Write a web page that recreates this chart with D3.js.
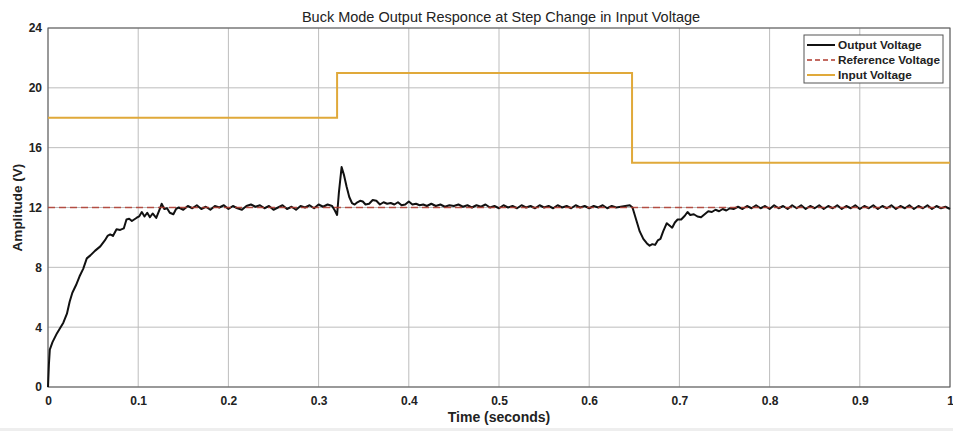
<!DOCTYPE html>
<html><head><meta charset="utf-8">
<script src="https://cdnjs.cloudflare.com/ajax/libs/d3/7.8.5/d3.min.js"></script>
<style>body{margin:0;background:#fff;}svg{display:block;font-family:"Liberation Sans",Arial,sans-serif;}</style>
</head><body><svg id="c" width="953" height="431"></svg>
<script>
const title = "Buck Mode Output Responce at Step Change in Input Voltage";
const xTicks = [0,0.1,0.2,0.3,0.4,0.5,0.6,0.7,0.8,0.9,1];
const xTickLabels = ["0","0.1","0.2","0.3","0.4","0.5","0.6","0.7","0.8","0.9","1"];
const yTicks = [0,4,8,12,16,20,24];
const seriesNames = ["Output Voltage","Reference Voltage","Input Voltage"];
const referenceVoltage = [[0,12],[1,12]];
const inputVoltage = [[0,18],[0.3205,18],[0.3205,21],[0.6475,21],[0.6475,15],[1,15]];
const outputVoltage = [
[0,0],[0.001,1.5],[0.002,2.5],[0.005,3.0],[0.010,3.6],[0.013,3.9],[0.017,4.3],[0.021,4.9],[0.024,5.7],[0.027,6.3],
[0.031,6.8],[0.035,7.4],[0.039,7.9],[0.043,8.6],[0.047,8.8],[0.052,9.1],[0.058,9.4],[0.063,9.8],[0.066,10.1],[0.069,10.2],
[0.072,10.1],[0.076,10.55],[0.080,10.5],[0.084,10.6],[0.087,11.2],[0.090,11.25],[0.093,11.1],[0.098,11.3],[0.101,11.4],[0.104,11.7],
[0.107,11.4],[0.110,11.65],[0.113,11.35],[0.116,11.6],[0.120,11.3],[0.124,11.9],[0.126,12.25],[0.129,11.9],[0.132,11.95],[0.135,11.65],
[0.139,11.55],[0.142,11.9],[0.145,12.0],[0.15,11.85],[0.155,12.1],[0.16,11.95],[0.165,12.15],[0.17,11.9],[0.175,12.05],[0.18,11.85],
[0.185,12.1],[0.19,12.0],[0.195,12.15],[0.2,11.9],[0.205,12.1],[0.21,11.95],[0.215,11.85],[0.22,12.1],[0.225,12.2],[0.23,12.05],
[0.235,12.15],[0.24,11.95],[0.245,12.1],[0.25,11.85],[0.255,12.0],[0.26,12.15],[0.265,11.9],[0.27,12.05],[0.275,11.85],[0.28,12.1],
[0.285,12.0],[0.29,12.15],[0.295,11.95],[0.3,12.2],[0.305,12.05],[0.31,12.2],[0.315,12.1],[0.318,11.8],[0.3205,11.5],[0.3225,13.0],
[0.3255,14.7],[0.328,14.2],[0.331,13.4],[0.334,12.7],[0.337,12.3],[0.340,12.2],[0.343,12.35],[0.346,12.45],[0.349,12.4],[0.352,12.2],
[0.356,12.25],[0.36,12.5],[0.364,12.45],[0.368,12.2],[0.372,12.35],[0.376,12.25],[0.38,12.3],[0.384,12.2],[0.388,12.35],[0.392,12.15],
[0.396,12.2],[0.4,12.4],[0.404,12.2],[0.408,12.25],[0.412,12.15],[0.416,12.2],[0.42,12.1],[0.425,12.25],[0.43,12.1],[0.435,12.2],
[0.44,12.05],[0.445,12.15],[0.45,12.1],[0.455,12.2],[0.46,12.05],[0.465,12.15],[0.47,12.0],[0.475,12.15],[0.48,12.05],[0.485,12.2],
[0.49,12.0],[0.495,12.1],[0.5,11.95],[0.505,12.15],[0.51,12.0],[0.515,12.1],[0.52,11.95],[0.525,12.15],[0.53,12.0],[0.535,12.1],
[0.54,11.95],[0.545,12.15],[0.55,12.0],[0.555,12.1],[0.56,11.95],[0.565,12.15],[0.57,12.0],[0.575,12.1],[0.58,11.95],[0.585,12.15],
[0.59,12.0],[0.595,12.1],[0.6,11.95],[0.605,12.1],[0.61,12.0],[0.615,12.15],[0.62,11.95],[0.625,12.1],[0.63,12.0],[0.635,12.05],
[0.64,12.1],[0.645,12.15],[0.648,12.0],[0.652,11.2],[0.656,10.4],[0.66,9.9],[0.664,9.6],[0.667,9.45],[0.670,9.55],[0.673,9.5],
[0.676,9.8],[0.679,9.9],[0.682,10.4],[0.686,10.95],[0.689,10.8],[0.692,10.65],[0.695,11.0],[0.698,11.2],[0.702,11.2],[0.706,11.45],
[0.709,11.7],[0.712,11.5],[0.716,11.55],[0.72,11.4],[0.724,11.35],[0.728,11.55],[0.732,11.75],[0.736,11.7],[0.74,11.85],[0.744,11.75],
[0.748,11.9],[0.752,11.8],[0.756,11.95],[0.76,11.9],[0.765,12.05],[0.77,11.9],[0.775,12.1],[0.78,11.95],[0.785,12.15],[0.79,11.95],
[0.795,12.1],[0.8,11.9],[0.805,12.15],[0.81,11.95],[0.815,12.1],[0.82,11.9],[0.825,12.15],[0.83,11.95],[0.835,12.15],[0.84,11.9],
[0.845,12.1],[0.85,11.95],[0.855,12.15],[0.86,11.9],[0.865,12.1],[0.87,11.95],[0.875,12.15],[0.88,11.9],[0.885,12.1],[0.89,11.95],
[0.895,12.15],[0.9,11.9],[0.905,12.1],[0.91,11.95],[0.915,12.15],[0.92,11.9],[0.925,12.1],[0.93,11.95],[0.935,12.15],[0.94,11.9],
[0.945,12.1],[0.95,11.95],[0.955,12.15],[0.96,11.9],[0.965,12.1],[0.97,11.95],[0.975,12.15],[0.98,11.9],[0.985,12.1],[0.99,11.95],
[0.995,12.05],[1.0,11.9]
];
const colors = ["#111111","#b03a2e","#e0a93a"];

const svg = d3.select("#c");
const L=48, R=950, T=28, B=387;
const x = d3.scaleLinear().domain([0,1]).range([L,R]);
const y = d3.scaleLinear().domain([0,24]).range([B,T]);

svg.append("rect").attr("x",0).attr("y",428).attr("width",953).attr("height",3).attr("fill","#eeeeee");

// grid
const g = svg.append("g");
g.selectAll(".gx").data(xTicks).enter().append("line")
  .attr("x1",d=>x(d)).attr("x2",d=>x(d)).attr("y1",T).attr("y2",B)
  .attr("stroke","#bdbdbd").attr("stroke-width",1);
g.selectAll(".gy").data(yTicks).enter().append("line")
  .attr("x1",L).attr("x2",R).attr("y1",d=>y(d)).attr("y2",d=>y(d))
  .attr("stroke","#bdbdbd").attr("stroke-width",1);

// axes
const xAxis = d3.axisBottom(x).tickValues(xTicks).tickFormat((d,i)=>xTickLabels[i]).tickSize(0).tickPadding(9);
const yAxis = d3.axisLeft(y).tickValues(yTicks).tickFormat(d3.format("d")).tickSize(0).tickPadding(6);
const xa = svg.append("g").attr("transform",`translate(0,${B})`).call(xAxis);
const ya = svg.append("g").attr("transform",`translate(${L},0)`).call(yAxis);
[xa,ya].forEach(a=>{
  a.select(".domain").remove();
  a.selectAll("text").attr("font-size",12).attr("font-weight","bold").attr("fill","#222")
   .attr("font-family","'Liberation Sans',Arial,sans-serif");
});
svg.append("rect").attr("x",L).attr("y",T).attr("width",R-L).attr("height",B-T)
  .attr("fill","none").attr("stroke","#555").attr("stroke-width",1);

// lines
const line = d3.line().x(d=>x(d[0])).y(d=>y(d[1]));
svg.append("path").datum(inputVoltage).attr("d",line).attr("fill","none")
  .attr("stroke",colors[2]).attr("stroke-width",2);
svg.append("path").datum(outputVoltage).attr("d",line).attr("fill","none")
  .attr("stroke",colors[0]).attr("stroke-width",2).attr("stroke-linejoin","round");
svg.append("path").datum(referenceVoltage).attr("d",line).attr("fill","none")
  .attr("stroke",colors[1]).attr("stroke-width",1.3).attr("stroke-dasharray","7,4").attr("opacity",0.85);

// title & labels
svg.append("text").attr("x",(L+R)/2+2).attr("y",22).attr("text-anchor","middle")
  .attr("font-size",14.5).attr("fill","#222").text(title);
svg.append("text").attr("x",(L+R)/2).attr("y",422).attr("text-anchor","middle")
  .attr("font-size",14).attr("font-weight","bold").attr("fill","#222").text("Time (seconds)");
svg.append("text").attr("transform",`translate(22,${(T+B)/2}) rotate(-90)`).attr("text-anchor","middle")
  .attr("font-size",13.5).attr("font-weight","bold").attr("fill","#222").text("Amplitude (V)");

// legend
const lg = svg.append("g");
lg.append("rect").attr("x",804).attr("y",35).attr("width",139).attr("height",48)
  .attr("fill","#fff").attr("stroke","#555").attr("stroke-width",1);
seriesNames.forEach((n,i)=>{
  const yy = 45 + i*15;
  const ln = lg.append("line").attr("x1",807).attr("x2",835).attr("y1",yy).attr("y2",yy)
    .attr("stroke",colors[i]).attr("stroke-width",2);
  if(i===1) ln.attr("stroke-dasharray","5,3").attr("stroke-width",1.5);
  lg.append("text").attr("x",838).attr("y",yy+4).attr("font-size",11.8).attr("font-weight","bold")
    .attr("fill","#222").text(n);
});
</script></body></html>
